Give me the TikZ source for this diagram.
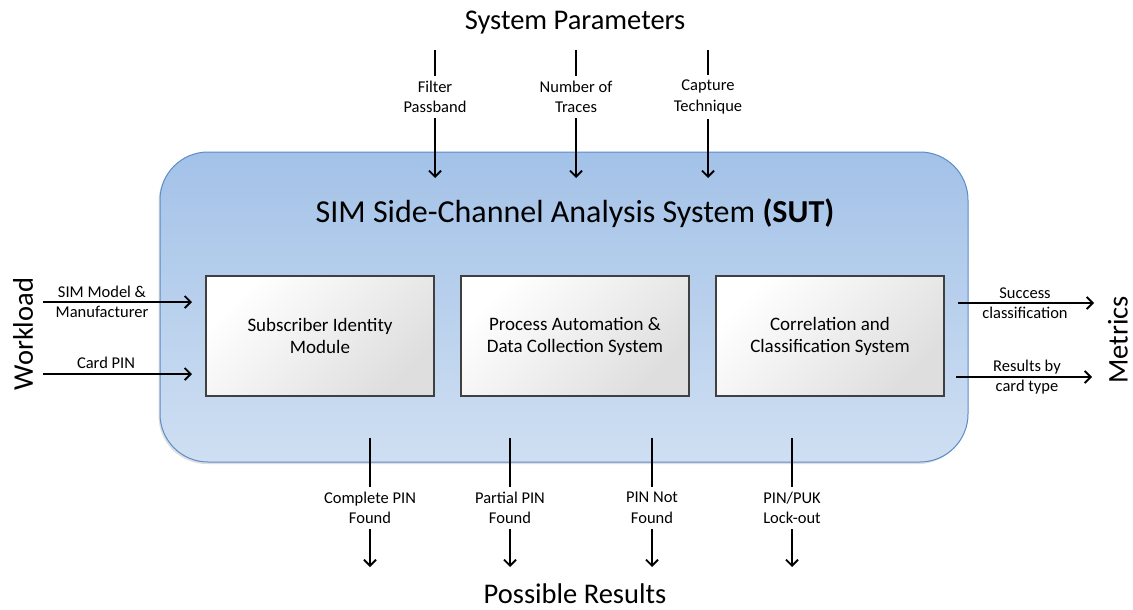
\documentclass[tikz,border=0pt]{standalone}
\usepackage{fontspec}
\setmainfont{Carlito}
\usetikzlibrary{arrows.meta,shadows}

\definecolor{sutblue}{HTML}{A3C2E8}
\definecolor{sutpale}{HTML}{CFDFF2}
\definecolor{sutedge}{HTML}{5B8CC8}

\tikzset{
  arr/.style={-{Straight Barb[length=6pt,width=12pt,line width=1.8pt]}},
  wire/.style={line width=1.1pt},
  lbl/.style={align=center, font=\fontsize{16.5}{20.5}\selectfont, inner sep=5pt},
  bigtxt/.style={font=\fontsize{28.5}{34}\selectfont, inner sep=0pt},
  sutbox/.style={draw=sutedge, line width=1pt, rounded corners=48pt,
    top color=sutblue, bottom color=sutpale,
    minimum width=808pt, minimum height=310pt,
    drop shadow={shadow xshift=-1.5pt, shadow yshift=-2pt, opacity=.25}},
  modbox/.style={draw=black!75, line width=1.2pt,
    top color=white, bottom color=black!13, shading angle=45,
    minimum width=228pt, minimum height=120pt,
    align=center, font=\fontsize{19}{22}\selectfont},
}

\begin{document}
\begin{tikzpicture}[x=1pt,y=-1pt]
\useasboundingbox (0,0) rectangle (1133,610);

% system under test and its modules
\node[sutbox] (sut) at (564,307) {};
\node[bigtxt, font=\fontsize{32}{38}\selectfont] (suttitle) at (575,213)
  {SIM Side-Channel Analysis System \textbf{(SUT)}};
\node[modbox] (sim) at (320,336) {Subscriber Identity\\Module};
\node[modbox] (pad) at (575,336) {Process Automation \&\\Data Collection System};
\node[modbox] (ccs) at (830,336) {Correlation and\\Classification System};

% system parameters (top)
\node[bigtxt] (params) at (575,23) {System Parameters};
\coordinate (fp0) at (435,50);  \coordinate (fp1) at (435,178);
\coordinate (nt0) at (576,50);  \coordinate (nt1) at (576,178);
\coordinate (ct0) at (708,50);  \coordinate (ct1) at (708,178);
\node[lbl] (fp) at (435,97) {Filter\\Passband};
\node[lbl] (nt) at (576,97) {Number of\\Traces};
\node[lbl] (ct) at (708,97) {Capture\\Technique};
\draw[wire] (fp0) -- (fp.north);
\draw[wire] (nt0) -- (nt.north);
\draw[wire] (ct0) -- (ct.north);
\draw[wire,arr] (fp.south) -- (fp1);
\draw[wire,arr] (nt.south) -- (nt1);
\draw[wire,arr] (ct.south) -- (ct1);

% workload (left)
\node[bigtxt, rotate=90] (workload) at (23,334) {Workload};
\coordinate (sm0) at (43,302);  \coordinate (sm1) at (192,302);
\coordinate (cp0) at (43,374);  \coordinate (cp1) at (192,374);
\draw[wire,arr] (sm0) -- (sm1);
\draw[wire,arr] (cp0) -- (cp1);
\node[lbl] (sm) at (102,302) {SIM Model \&\\Manufacturer};
\node[lbl] (cp) at (106,363) {Card PIN};

% metrics (right)
\node[bigtxt, rotate=90] (metrics) at (1118,340) {Metrics};
\coordinate (sc0) at (958,303);  \coordinate (sc1) at (1094,303);
\coordinate (rc0) at (956,377);  \coordinate (rc1) at (1092,377);
\draw[wire,arr] (sc0) -- (sc1);
\draw[wire,arr] (rc0) -- (rc1);
\node[lbl] (sc) at (1025,303) {Success\\classification};
\node[lbl] (rc) at (1027,377) {Results by\\card type};

% possible results (bottom)
\node[bigtxt] (results) at (575,594) {Possible Results};
\foreach \n/\x/\t in {cf/370/{Complete PIN\\Found}, pf/510/{Partial PIN\\Found},
                      nf/652/{PIN Not\\Found}, lo/792/{PIN/PUK\\Lock-out}} {
  \coordinate (\n0) at (\x,438);
  \coordinate (\n1) at (\x,567);
  \node[lbl] (\n) at (\x,508) {\t};
  \draw[wire] (\n0) -- (\n.north);
  \draw[wire,arr] (\n.south) -- (\n1);
}
\end{tikzpicture}
\end{document}
